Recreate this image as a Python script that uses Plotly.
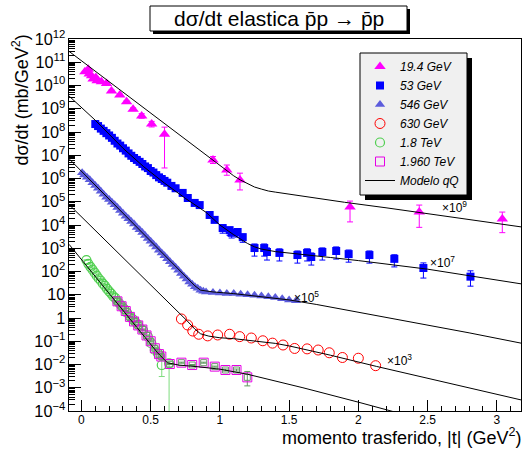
import plotly.graph_objects as go

# ---------------- data: dσ/dt in mb/GeV^2 (before the display scale factor) ----------------
# 19.4 GeV  (shown x1e9)
t_19 = [0.025, 0.049, 0.056, 0.073, 0.084, 0.104, 0.113, 0.144, 0.181, 0.217, 0.277, 0.326,
        0.373, 0.435, 0.507, 0.600, 0.950, 1.050, 1.145, 1.940, 2.440, 3.040]
ds_19 = [39, 50, 31, 26, 19, 22, 16, 14.5, 12.3, 5.8, 3.9, 2.0,
         0.95, 0.49, 0.22, 0.081, 6.3e-3, 2.3e-3, 8.7e-4, 5.9e-5, 3.6e-5, 1.8e-5]
ru_19 = [0.05, 0.05, 0.05, 0.05, 0.05, 0.05, 0.05, 0.05, 0.05, 0.1, 0.1, 0.1,
         0.15, 0.25, 0.3, 1.0, 0.4, 0.65, 0.95, 0.81, 1.0, 1.0]
rd_19 = [0.05, 0.05, 0.05, 0.05, 0.05, 0.05, 0.05, 0.05, 0.05, 0.1, 0.1, 0.1,
         0.13, 0.2, 0.25, 0.965, 0.3, 0.4, 0.63, 0.77, 0.78, 0.74]

# 53 GeV  (shown x1e7)
t_53 = [0.10, 0.12, 0.14, 0.16, 0.18, 0.20, 0.22, 0.24, 0.26, 0.28, 0.30, 0.32, 0.34, 0.36,
        0.38, 0.40, 0.42, 0.44, 0.46, 0.48, 0.50, 0.52, 0.54, 0.56, 0.58, 0.60, 0.62, 0.65,
        0.68, 0.731, 0.768, 0.818, 0.854, 0.926, 0.962, 1.02, 1.07, 1.085, 1.128, 1.165,
        1.25, 1.32, 1.34, 1.43, 1.56, 1.63, 1.66, 1.74, 1.84, 1.93, 2.08, 2.26, 2.47, 2.81]
ds_53 = [22, 18, 14, 11.2, 8.9, 7.1, 5.6, 4.2, 3.2, 2.6, 2.0, 1.58, 1.2, 0.95,
         0.76, 0.63, 0.52, 0.42, 0.33, 0.28, 0.21, 0.18, 0.14, 0.112, 0.095, 0.079, 0.066, 0.048,
         0.038, 0.024, 0.0145, 8.9e-3, 7.2e-3, 2.7e-3, 1.66e-3, 7.4e-4, 6.0e-4, 4.6e-4, 5.0e-4, 3.0e-4,
         1.02e-4, 1.02e-4, 6.9e-5, 6.3e-5, 5.1e-5, 6.3e-5, 4.2e-5, 6.9e-5, 7.6e-5, 5.6e-5,
         5.1e-5, 3.5e-5, 1.41e-5, 6.0e-6]
ru_53 = [0.04, 0.04, 0.04, 0.04, 0.04, 0.04, 0.04, 0.04, 0.04, 0.04, 0.04, 0.04, 0.04, 0.04,
         0.04, 0.04, 0.04, 0.04, 0.04, 0.04, 0.04, 0.04, 0.04, 0.04, 0.04, 0.04, 0.04, 0.04,
         0.04, 0.08, 0.08, 0.08, 0.08, 0.15, 0.15, 0.35, 0.35, 0.35, 0.35, 0.35,
         0.5, 0.5, 0.5, 0.5, 0.5, 0.5, 0.5, 0.5, 0.5, 0.5, 0.5, 0.5, 0.66, 0.78]
rd_53 = [0.04, 0.04, 0.04, 0.04, 0.04, 0.04, 0.04, 0.04, 0.04, 0.04, 0.04, 0.04, 0.04, 0.04,
         0.04, 0.04, 0.04, 0.04, 0.04, 0.04, 0.04, 0.04, 0.04, 0.04, 0.04, 0.04, 0.04, 0.04,
         0.04, 0.08, 0.08, 0.08, 0.08, 0.15, 0.15, 0.4, 0.4, 0.4, 0.4, 0.4,
         0.55, 0.55, 0.55, 0.55, 0.55, 0.55, 0.55, 0.55, 0.55, 0.55, 0.55, 0.55, 0.63, 0.61]

# 546 GeV  (shown x1e5)
t_546 = [0.005, 0.02, 0.04, 0.06, 0.08, 0.10, 0.12, 0.14, 0.16, 0.18, 0.20, 0.22, 0.24, 0.26,
         0.28, 0.30, 0.32, 0.34, 0.36, 0.38, 0.40, 0.42, 0.44, 0.46, 0.48, 0.50, 0.52, 0.54,
         0.56, 0.58, 0.60, 0.62, 0.64, 0.66, 0.68, 0.70, 0.72, 0.74, 0.76, 0.78, 0.80, 0.82,
         0.84, 0.86, 0.88, 0.90, 0.95, 1.00, 1.05, 1.10, 1.15, 1.20, 1.25, 1.30, 1.35, 1.40,
         1.45, 1.50, 1.55]
ds_546 = [17.8, 14.1, 11.2, 8.9, 6.6, 5.0, 3.8, 2.8, 2.1, 1.58, 1.26, 0.95, 0.74, 0.56,
          0.42, 0.32, 0.24, 0.186, 0.141, 0.110, 0.079, 0.063, 0.048, 0.035, 0.026, 0.020, 0.015, 0.0112,
          8.3e-3, 6.3e-3, 4.8e-3, 3.5e-3, 2.6e-3, 2.0e-3, 1.51e-3, 1.12e-3, 8.3e-4, 6.3e-4, 4.8e-4, 3.5e-4, 2.8e-4, 2.2e-4,
          1.9e-4, 1.58e-4, 1.41e-4, 1.32e-4, 1.26e-4, 1.20e-4, 1.12e-4, 1.12e-4, 1.05e-4, 1.0e-4, 9.5e-5, 8.9e-5, 8.3e-5, 7.6e-5,
          6.8e-5, 6.0e-5, 5.5e-5]

# 630 GeV  (shown x1e3)
t_630 = [0.722, 0.767, 0.804, 0.847, 0.912, 0.984, 1.07, 1.143, 1.227, 1.31, 1.38, 1.456,
         1.54, 1.63, 1.71, 1.79, 1.885, 2.0, 2.125]
ds_630 = [9.1e-4, 5.0e-4, 2.75e-4, 2.0e-4, 1.70e-4, 1.86e-4, 2.0e-4, 1.58e-4, 1.38e-4, 1.05e-4,
          8.3e-5, 6.9e-5, 4.9e-5, 4.7e-5, 4.2e-5, 3.2e-5, 2.0e-5, 1.86e-5, 8.9e-6]

# 1.8 TeV  (shown x1)
t_18 = [0.036, 0.05, 0.065, 0.08, 0.095, 0.11, 0.125, 0.14, 0.155, 0.17, 0.185, 0.2, 0.215,
        0.23, 0.245, 0.26, 0.275, 0.29, 0.31, 0.33, 0.35, 0.37, 0.39, 0.41, 0.445, 0.48, 0.505,
        0.53, 0.553, 0.58, 0.633]
ds_18 = [309, 214, 158, 120, 89, 66, 50, 40, 30, 24, 17.8, 14.1, 11.2,
         8.5, 7.1, 5.2, 4.2, 3.3, 2.4, 1.66, 1.15, 0.89, 0.66, 0.50, 0.30, 0.158, 0.081,
         0.042, 0.030, 9.5e-3, 0.0112]
ru_18 = [0.03, 0.03, 0.03, 0.03, 0.03, 0.03, 0.03, 0.03, 0.03, 0.03, 0.03, 0.03, 0.03,
         0.03, 0.03, 0.03, 0.03, 0.03, 0.03, 0.03, 0.03, 0.03, 0.03, 0.03, 0.03, 0.03, 0.03,
         0.03, 0.03, 1.2, 0.2]
rd_18 = [0.03, 0.03, 0.03, 0.03, 0.03, 0.03, 0.03, 0.03, 0.03, 0.03, 0.03, 0.03, 0.03,
         0.03, 0.03, 0.03, 0.03, 0.03, 0.03, 0.03, 0.03, 0.03, 0.03, 0.03, 0.03, 0.03, 0.03,
         0.03, 0.03, 0.68, 0.9999]

# 1.960 TeV  (shown x1)
t_196 = [0.26, 0.29, 0.32, 0.35, 0.38, 0.41, 0.44, 0.47, 0.50, 0.53, 0.56, 0.577, 0.638,
         0.722, 0.80, 0.883, 0.963, 1.04, 1.12, 1.198]
ds_196 = [5.2, 3.2, 2.0, 1.12, 0.71, 0.48, 0.32, 0.178, 0.10, 0.050, 0.028, 0.022, 0.0105,
          0.012, 9.5e-3, 0.012, 8.1e-3, 5.8e-3, 5.8e-3, 2.8e-3]
ru_196 = [0.05, 0.05, 0.05, 0.05, 0.05, 0.05, 0.05, 0.05, 0.05, 0.05, 0.05, 0.05, 0.05,
          0.05, 0.05, 0.05, 0.05, 0.1, 0.1, 0.79]
rd_196 = [0.05, 0.05, 0.05, 0.05, 0.05, 0.05, 0.05, 0.05, 0.05, 0.05, 0.05, 0.05, 0.05,
          0.05, 0.05, 0.05, 0.05, 0.1, 0.1, 0.57]

# Modelo qQ curves
mt_19 = [-0.09, 0.3, 0.6, 0.9, 1.1, 1.15, 1.2, 1.25, 1.3, 1.35, 1.4, 1.5, 1.6, 1.9, 2.2, 2.6, 3.0, 3.175]
m_19 = [295, 5.2, 0.23, 1.0e-2, 1.3e-3, 8.5e-4, 5.8e-4, 4.3e-4, 3.5e-4, 2.9e-4, 2.6e-4, 2.1e-4, 1.7e-4,
        9.5e-5, 5.5e-5, 2.6e-5, 1.17e-5, 8.3e-6]
mt_53 = [-0.09, 0.1, 0.3, 0.45, 0.6, 0.75, 0.9, 1.0, 1.1, 1.2, 1.25, 1.3, 1.4, 1.6, 1.8, 2.0, 2.2, 2.5, 2.8, 3.175]
m_53 = [355, 32, 2.0, 0.32, 0.063, 0.0141, 3.5e-3, 1.0e-3, 3.8e-4, 1.6e-4, 1.15e-4, 9.2e-5, 7.2e-5, 5.2e-5,
        4.0e-5, 2.95e-5, 2.1e-5, 1.26e-5, 6.6e-6, 2.95e-6]
mt_546 = [-0.09, 0.2, 0.4, 0.6, 0.75, 0.82, 0.86, 0.95, 1.1, 1.3, 1.5, 1.7, 2.0, 2.4, 2.8, 3.175]
m_546 = [71, 1.26, 0.079, 5.0e-3, 6.3e-4, 2.4e-4, 1.58e-4, 1.32e-4, 1.12e-4, 8.5e-5, 6.0e-5, 3.8e-5,
         1.78e-5, 6.3e-6, 2.3e-6, 8.3e-7]
mt_630 = [-0.09, 0.3, 0.6, 0.76, 0.82, 0.86, 0.92, 1.0, 1.1, 1.2, 1.3, 1.4, 1.5, 1.6, 1.8, 2.13, 2.5, 3.175]
m_630 = [76, 0.40, 7.1e-3, 7.9e-4, 3.3e-4, 2.1e-4, 1.66e-4, 1.41e-4, 1.29e-4, 1.12e-4, 9.5e-5, 8.1e-5,
         6.3e-5, 4.7e-5, 2.5e-5, 8.3e-6, 2.5e-6, 3.0e-7]
mt_tev = [-0.09, 0.3, 0.55, 0.62, 0.7, 0.85, 1.0, 1.2, 1.4, 1.6, 2.0, 2.3]
m_tev = [1480, 2.1, 0.032, 0.012, 9.5e-3, 7.9e-3, 6.3e-3, 3.8e-3, 2.0e-3, 1.0e-3, 2.4e-4, 7.9e-5]

SCALE_19, SCALE_53, SCALE_546, SCALE_630, SCALE_TEV = 1e9, 1e7, 1e5, 1e3, 1.0

# ---------------------------------------------------------------------------------------
FONT = "Liberation Sans, Arial, Helvetica, sans-serif"


def scaled(vals, s):
    return [v * s for v in vals]


def errs(vals, rel, s):
    return [v * s * r for v, r in zip(vals, rel)]


fig = go.Figure()

fig.add_trace(go.Scatter(
    x=t_19, y=scaled(ds_19, SCALE_19), mode="markers", name="19.4 GeV",
    marker=dict(symbol="triangle-up", size=10, color="#ff00ff"),
    error_y=dict(type="data", symmetric=False, array=errs(ds_19, ru_19, SCALE_19),
                 arrayminus=errs(ds_19, rd_19, SCALE_19), color="#ff00ff", thickness=1, width=3)))

fig.add_trace(go.Scatter(
    x=t_53, y=scaled(ds_53, SCALE_53), mode="markers", name="53 GeV",
    marker=dict(symbol="square", size=8, color="#0000ff"),
    error_y=dict(type="data", symmetric=False, array=errs(ds_53, ru_53, SCALE_53),
                 arrayminus=errs(ds_53, rd_53, SCALE_53), color="#0000ff", thickness=1, width=3)))

fig.add_trace(go.Scatter(
    x=t_546, y=scaled(ds_546, SCALE_546), mode="markers", name="546 GeV",
    marker=dict(symbol="triangle-up", size=9, color="#5c5cdc")))

fig.add_trace(go.Scatter(
    x=t_630, y=scaled(ds_630, SCALE_630), mode="markers", name="630 GeV",
    marker=dict(symbol="circle-open", size=10, color="#ff0000", line=dict(width=1))))

fig.add_trace(go.Scatter(
    x=t_18, y=scaled(ds_18, SCALE_TEV), mode="markers", name="1.8 TeV",
    marker=dict(symbol="circle-open", size=9, color="#4fcf4f", line=dict(width=1.2)),
    error_y=dict(type="data", symmetric=False, array=errs(ds_18, ru_18, SCALE_TEV),
                 arrayminus=errs(ds_18, rd_18, SCALE_TEV), color="#7fdc7f", thickness=1, width=3)))

fig.add_trace(go.Scatter(
    x=t_196, y=scaled(ds_196, SCALE_TEV), mode="markers", name="1.960 TeV",
    marker=dict(symbol="square-open", size=9, color="#e600e6", line=dict(width=1)),
    error_y=dict(type="data", symmetric=False, array=errs(ds_196, ru_196, SCALE_TEV),
                 arrayminus=errs(ds_196, rd_196, SCALE_TEV), color="#5f9a5f", thickness=1, width=3)))
fig.add_trace(go.Scatter(
    x=t_196, y=scaled(ds_196, SCALE_TEV), mode="markers", showlegend=False, hoverinfo="skip",
    marker=dict(symbol="square-open", size=6, color="#6f946f", line=dict(width=1))))

models = [(mt_19, m_19, SCALE_19), (mt_53, m_53, SCALE_53), (mt_546, m_546, SCALE_546),
          (mt_630, m_630, SCALE_630), (mt_tev, m_tev, SCALE_TEV)]
for i, (mt, mv, s) in enumerate(models):
    fig.add_trace(go.Scatter(
        x=mt, y=scaled(mv, s), mode="lines", name="Modelo qQ", legendgroup="model",
        showlegend=(i == 0), line=dict(color="black", width=1)))

# plot area in pixels: x 69..521, y 39..411
def px(x):
    return (x - 69) / 452.0


def py(y):
    return (411 - y) / 372.0


shapes = [
    # title box shadow + box
    dict(type="rect", xref="paper", yref="paper", x0=px(153), x1=px(410), y0=py(34), y1=py(9),
         fillcolor="black", line=dict(width=0), layer="above"),
    dict(type="rect", xref="paper", yref="paper", x0=px(150), x1=px(407), y0=py(31), y1=py(6),
         fillcolor="white", line=dict(color="black", width=1), layer="above"),
    # legend frame: shadow + box (the legend itself is drawn transparent on top)
    dict(type="rect", xref="paper", yref="paper", x0=px(365), x1=px(472), y0=py(200), y1=py(58),
         fillcolor="black", line=dict(width=0), layer="above"),
    dict(type="rect", xref="paper", yref="paper", x0=px(360), x1=px(467), y0=py(195), y1=py(53),
         fillcolor="#f0f0f0", line=dict(color="black", width=1), layer="above"),
]

annotations = [
    dict(text="dσ/dt elastica p\u0304p \u2192 p\u0304p", xref="paper", yref="paper",
         x=px(278.5), y=py(18.5), xanchor="center", yanchor="middle", showarrow=False,
         font=dict(family=FONT, size=21, color="black")),
    dict(text="dσ/dt (mb/GeV<sup>2</sup>)", xref="paper", yref="paper", textangle=-90,
         x=px(21), y=py(33), xanchor="center", yanchor="top", showarrow=False,
         font=dict(family=FONT, size=18, color="black")),
    dict(text="momento trasferido, |t| (GeV<sup>2</sup>)", xref="paper", yref="paper",
         x=px(522), y=py(449), xanchor="right", yanchor="bottom", showarrow=False, borderpad=0,
         font=dict(family=FONT, size=18, color="black")),
    dict(text="\u00d710<sup>9</sup>", xref="x", yref="y", x=2.59, y=4.77, xanchor="left",
         yanchor="middle", showarrow=False, font=dict(family=FONT, size=12, color="black")),
    dict(text="\u00d710<sup>7</sup>", xref="x", yref="y", x=2.50, y=2.41, xanchor="left",
         yanchor="middle", showarrow=False, font=dict(family=FONT, size=12, color="black")),
    dict(text="\u00d710<sup>5</sup>", xref="x", yref="y", x=1.52, y=0.90, xanchor="left",
         yanchor="middle", showarrow=False, font=dict(family=FONT, size=12, color="black")),
    dict(text="\u00d710<sup>3</sup>", xref="x", yref="y", x=2.19, y=-1.81, xanchor="left",
         yanchor="middle", showarrow=False, font=dict(family=FONT, size=12, color="black")),
]

fig.update_layout(
    width=523, height=449,
    margin=dict(l=69, r=2, t=39, b=38, pad=0),
    paper_bgcolor="white", plot_bgcolor="white",
    font=dict(family=FONT, size=12, color="black"),
    showlegend=True,
    legend=dict(x=px(360), y=py(52), xanchor="left", yanchor="top",
                bgcolor="rgba(0,0,0,0)", borderwidth=0,
                font=dict(family=FONT, size=12, color="black", style="italic"),
                tracegroupgap=0),
    shapes=shapes,
    annotations=annotations,
)

fig.update_xaxes(
    range=[-0.09, 3.175], showgrid=False, zeroline=False,
    showline=True, linecolor="black", linewidth=1, mirror=True,
    ticks="inside", ticklen=11, tickcolor="black", tick0=0, dtick=0.5,
    minor=dict(ticks="inside", ticklen=5, dtick=0.1, tick0=0, tickcolor="black", showgrid=False),
    tickfont=dict(family=FONT, size=12), ticklabelstandoff=-2,
)
fig.update_yaxes(
    type="log", range=[-4, 12], showgrid=False, zeroline=False,
    showline=True, linecolor="black", linewidth=1, mirror=True,
    ticks="inside", ticklen=12, tickcolor="black", dtick=1, exponentformat="power",
    minor=dict(ticks="inside", ticklen=6, dtick="D1", tickcolor="black", showgrid=False),
    tickfont=dict(family=FONT, size=13),
)

fig.write_html("out.html")
